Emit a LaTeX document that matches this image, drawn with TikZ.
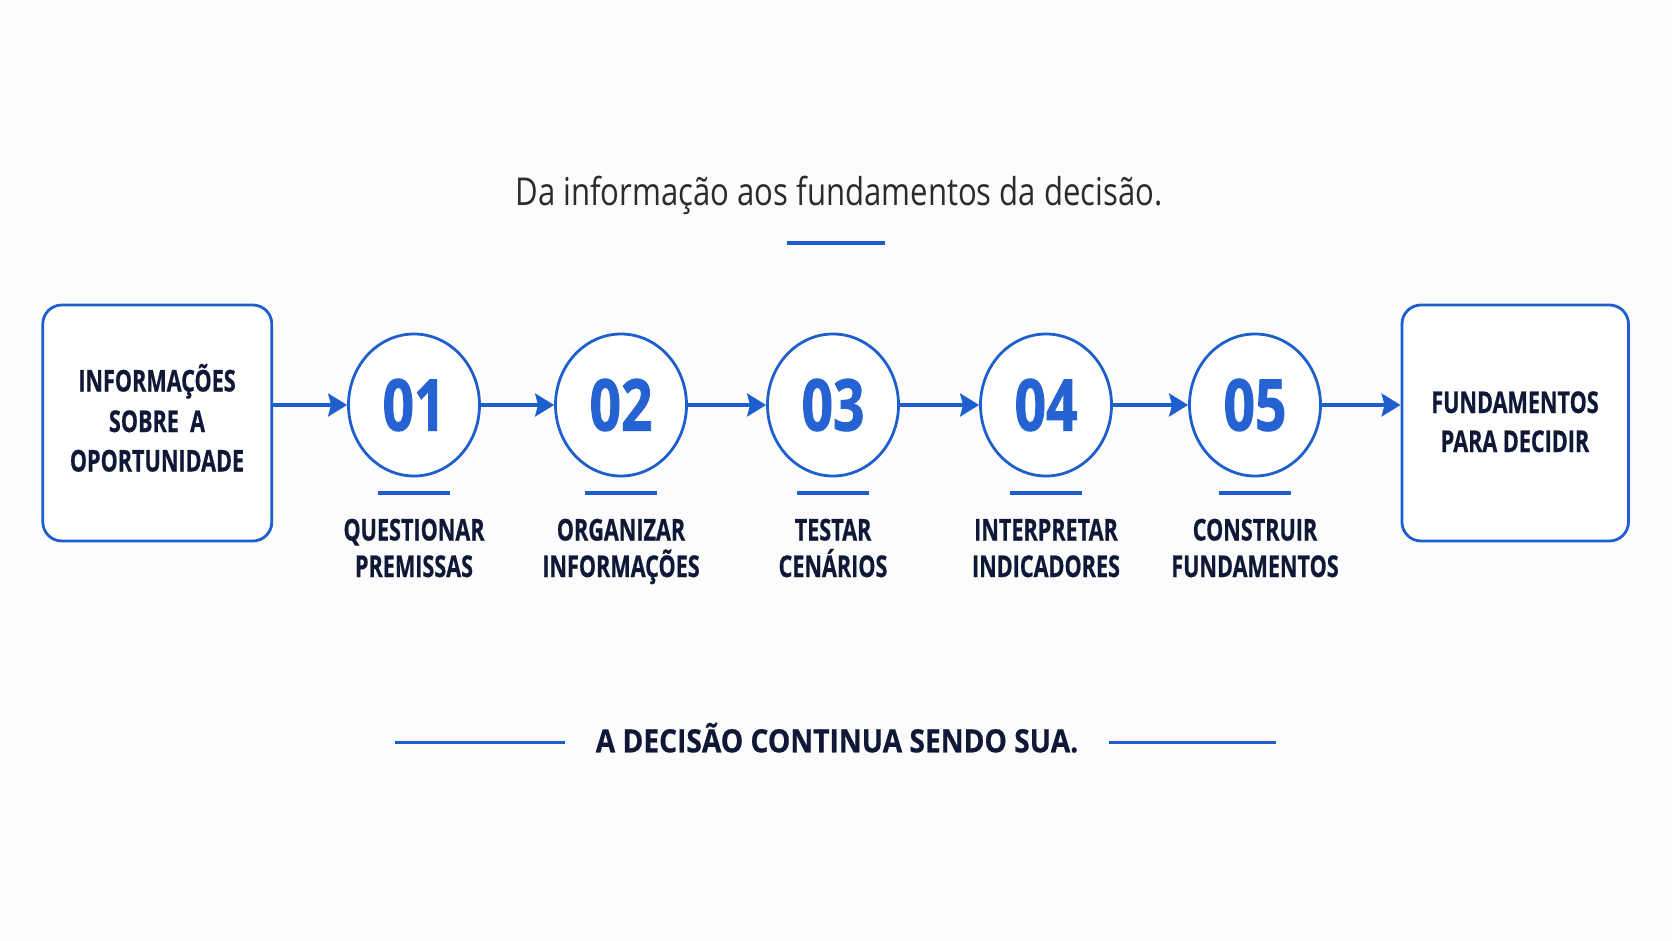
\documentclass[tikz,border=0pt]{standalone}
\usepackage{fontspec}
\setmainfont{Open Sans}
\newfontfamily\titlefont[FakeStretch=0.81]{Open Sans}
\newfontfamily\labfont[FakeStretch=0.72, BoldFeatures={FakeBold=0.6}]{Open Sans}
\newfontfamily\numfont[FakeStretch=0.77, BoldFeatures={FakeBold=1.2}]{Open Sans}
\newfontfamily\botfont[FakeStretch=0.88, BoldFeatures={FakeBold=0.6}]{Open Sans}
\usetikzlibrary{arrows.meta,shapes.geometric,calc}
\definecolor{mblue}{HTML}{1F5FCD}
\definecolor{nblue}{HTML}{2563D3}
\definecolor{navy}{HTML}{101838}
\definecolor{tgray}{HTML}{2B2B2B}
\definecolor{bgc}{HTML}{FCFCFD}
\begin{document}
\begin{tikzpicture}[x=1pt,y=-1pt,
  titletext/.style={inner sep=0pt, text=tgray, font=\titlefont\fontsize{38.4}{44}\selectfont},
  bigbox/.style={draw=mblue, line width=2.8pt, rounded corners=19pt, fill=white, minimum width=229pt, minimum height=236pt, inner sep=0pt},
  boxtxt/.style={inner sep=0pt, text=navy, font=\labfont\bfseries\fontsize{30}{36}\selectfont},
  stepcirc/.style={ellipse, draw=mblue, line width=2.8pt, fill=white, minimum width=131pt, minimum height=142pt, inner sep=0pt, text=nblue, font=\numfont\bfseries\fontsize{71.5}{80}\selectfont},
  lab/.style={inner sep=0pt, text=navy, font=\labfont\bfseries\fontsize{30}{36}\selectfont},
  bottext/.style={inner sep=0pt, text=navy, font=\botfont\bfseries\fontsize{32}{38}\selectfont},
  arr/.style={draw=mblue, line width=3.4pt, -{Stealth[length=19pt,width=23pt,inset=3pt]}},
  uline/.style={draw=mblue, line width=4pt},
  bline/.style={draw=mblue, line width=3pt}
]
\fill[bgc] (0,0) rectangle (1672,941);
\useasboundingbox (0,0) rectangle (1672,941);

% title
\node[titletext, anchor=base] (title) at (839,205.5) {Da informação aos fundamentos da decisão.};
\draw[uline] (786.5,243) -- (885,243);

% boxes
\node[bigbox] (src) at (157.3,423) {};
\node[boxtxt, anchor=base] (s1) at (157,391.5) {INFORMAÇÕES};
\node[boxtxt, anchor=base] (s2) at (157,432) {SOBRE\ \ A};
\node[boxtxt, anchor=base] (s3) at (157,471.5) {OPORTUNIDADE};

\node[bigbox, minimum width=226.5pt] (dst) at (1515.2,423) {};
\node[boxtxt, anchor=base] (d1) at (1515,413) {FUNDAMENTOS};
\node[boxtxt, anchor=base] (d2) at (1515,452) {PARA DECIDIR};

% steps
\foreach \x/\n/\a/\b/\i in {414/01/QUESTIONAR/PREMISSAS/1,
                            621/02/ORGANIZAR/INFORMAÇÕES/2,
                            833/03/TESTAR/CENÁRIOS/3,
                            1046/04/INTERPRETAR/INDICADORES/4,
                            1255/05/CONSTRUIR/FUNDAMENTOS/5}{
  \node[stepcirc] (c\i) at (\x,405) {\n};
  \draw[uline] (\x-36,493) -- (\x+36,493);
  \node[lab, anchor=base] (la\i) at (\x,540.5) {\a};
  \node[lab, anchor=base] (lb\i) at (\x,577) {\b};
}

% connectors
\draw[arr] (src.east |- c1.west) -- (c1.west);
\draw[arr] (c1) -- (c2);
\draw[arr] (c2) -- (c3);
\draw[arr] (c3) -- (c4);
\draw[arr] (c4) -- (c5);
\draw[arr] (c5) -- (dst.west |- c5.east);

% bottom
\node[bottext, anchor=base] (bottom) at (837,752.3) {A DECISÃO CONTINUA SENDO SUA.};
\draw[bline] (394.5,742) -- (565,742);
\draw[bline] (1109,742) -- (1276,742);
\end{tikzpicture}
\end{document}
